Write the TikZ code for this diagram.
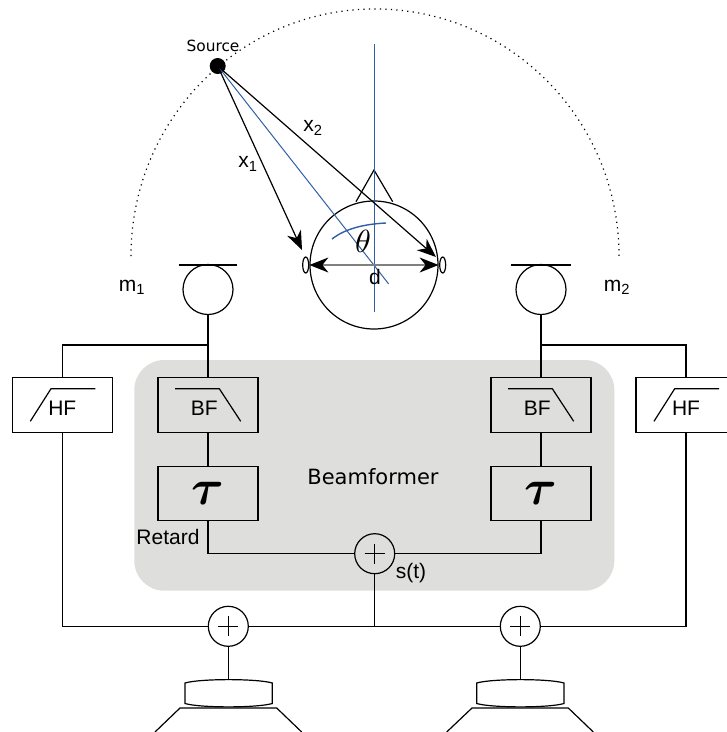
\documentclass[tikz,border=0pt]{standalone}
\usepackage{amsmath,amssymb}
\usepackage{fontspec}
\setmainfont{Liberation Sans}
\newfontfamily\dejavu{DejaVu Sans}
\usetikzlibrary{arrows.meta, shapes.geometric, positioning, calc}
\newcommand{\drawl}{\draw[line width=1.2pt]}
\definecolor{bluefig}{HTML}{2F5FA8}
\definecolor{greyfig}{HTML}{DEDEDD}
\tikzset{
  lab/.style={font=\fontsize{21}{21}\selectfont, inner sep=0pt},
  filterbox/.style={draw, line width=1.2pt, rectangle, minimum width=100pt, minimum height=54.6pt, inner sep=0pt},
  sumnode/.style={draw, line width=1.2pt, circle, minimum size=40pt, inner sep=0pt,
    path picture={\draw[line width=1pt] (path picture bounding box.center) +(-10,0) -- +(10,0) +(0,-10) -- +(0,10);}},
  micnode/.style={draw, line width=1.2pt, circle, minimum size=50pt, inner sep=0pt},
  earnode/.style={draw, line width=1.2pt, ellipse, minimum width=6pt, minimum height=16pt, inner sep=0pt}
}

\begin{document}
\begin{tikzpicture}[x=1pt,y=-1pt,>={Stealth[length=19pt,width=15pt,inset=6pt,color=black]}]
\useasboundingbox (0,0) rectangle (727,732);
\clip (0,0) rectangle (727,732);
% Beamformer background
\fill[greyfig, rounded corners=30pt] (134.3,360) rectangle (614.3,590.7);
\node[font=\dejavu\fontsize{21}{21}\selectfont, inner sep=0pt] (beam) at (373,477) {Beamformer};
% Source and dotted arc
\draw[line width=1.2pt, dash pattern=on 1.2pt off 4.3pt] (131,256) arc[start angle=180, end angle=360, x radius=244, y radius=247];
\node[font=\dejavu\fontsize{15.4}{15.4}\selectfont, inner sep=0pt] (srclabel) at (213,46) {Source};
\node[circle, fill=black, minimum size=16pt, inner sep=0pt] (source) at (217.7,66) {};
% Head
\node[draw, line width=1.2pt, circle, minimum size=128pt, inner sep=0pt] (head) at (374,265) {};
\node[earnode] (earL) at (305.7,265) {};
\node[earnode] (earR) at (442.7,265) {};
\drawl (356,201.7) -- (374,170) -- (392.7,201.7);
\coordinate (tipA) at (302,250);
\coordinate (tipB) at (436,257);
\coordinate (axisT) at (374,44);
\coordinate (axisB) at (374,312);
\coordinate (diagB) at (388.7,284);
\draw[bluefig, line width=1pt] (axisT) -- (axisB);
\draw[bluefig, line width=1pt] (source.center) -- (diagB);
\draw[bluefig, line width=1.4pt] (332,239) .. controls (346,228) and (366,224) .. (386,223);
\draw[gray, line width=1.4pt, <->] (head.west) -- (head.east);
\drawl[->] (source.center) -- (tipA);
\drawl[->] (source.center) -- (tipB);
\node[scale=3.2, inner sep=0pt] (theta) at (363,241) {$\theta$};
\node[lab] (dlab) at (375,277) {d};
\node[lab] (xa) at (248,164) {x\textsubscript{1}};
\node[lab] (xb) at (313,128) {x\textsubscript{2}};
% Microphones
\node[micnode] (micL) at (208,289.5) {};
\node[micnode] (micR) at (541,289.5) {};
\drawl (178.7,265) -- (237,265);
\drawl (511,265) -- (571,265);
\node[lab] (mA) at (132,287) {m\textsubscript{1}};
\node[lab] (mB) at (617,287) {m\textsubscript{2}};
% Filters
\node[filterbox] (hfL) at (62.3,405) {};
\node[filterbox] (hfR) at (686,405) {};
\node[filterbox] (bfL) at (208,405) {};
\node[filterbox] (bfR) at (541,405) {};
\node[filterbox] (tauL) at (208,493.5) {};
\node[filterbox] (tauR) at (541,493.5) {};
\node[lab] at ([yshift=-3pt]hfL.center) {HF};
\node[lab] at ([yshift=-3pt]hfR.center) {HF};
\node[lab] at ([xshift=-3.7pt,yshift=-3pt]bfL.center) {BF};
\node[lab] at ([xshift=-3.7pt,yshift=-3pt]bfR.center) {BF};
\node[scale=5, inner sep=0pt] at (tauL.center) {$\boldsymbol{\tau}$};
\node[scale=5, inner sep=0pt] at (tauR.center) {$\boldsymbol{\tau}$};
\node[lab] (retard) at (168,537) {Retard};
\drawl (hfL.center) ++(-32,16.3) -- ++(20.7,-32.6) -- ++(44.3,0);
\drawl (hfR.center) ++(-32,16.3) -- ++(20.7,-32.6) -- ++(44.3,0);
\drawl (bfL.center) ++(-33,-16.3) -- ++(44.3,0) -- ++(21.4,32.6);
\drawl (bfR.center) ++(-33,-16.3) -- ++(44.3,0) -- ++(21.4,32.6);
% Sums
\node[sumnode] (sumC) at (374.7,553.7) {};
\node[sumnode] (sumL) at (228.3,626.3) {};
\node[sumnode] (sumR) at (520.3,626.3) {};
\node[lab] (st) at (411,573) {s(t)};
\coordinate (junC) at (sumC |- sumL);
% Wires
\drawl (micL) -- (bfL);
\drawl (micR) -- (bfR);
\drawl (bfL) -- (tauL);
\drawl (bfR) -- (tauR);
\drawl (tauL) |- (sumC);
\drawl (tauR) |- (sumC);
\drawl (sumC) -- (junC);
\drawl (sumL) -- (sumR);
\drawl (208,345) -| (hfL);
\drawl (541,345) -| (hfR);
\drawl (hfL) |- (sumL);
\drawl (hfR) |- (sumR);
% Speakers
\coordinate (spkL) at (228.3,679.5);
\coordinate (spkR) at (520.3,679.5);
\drawl (sumL) -- (spkL);
\drawl (sumR) -- (spkR);
\drawl (185,683) .. controls (200,678.5) and (257,678.5) .. (272.3,683) -- (272.3,703.5) .. controls (257,708) and (200,708) .. (185,703.5) -- cycle;
\drawl (155,732) -- (180,708) -- (276.7,708) -- (301.7,732);
\drawl (476.7,683) .. controls (492,678.5) and (549,678.5) .. (564,683) -- (564,703.5) .. controls (549,708) and (492,708) .. (476.7,703.5) -- cycle;
\drawl (446.7,732) -- (472,708) -- (568.3,708) -- (593.3,732);
\end{tikzpicture}
\end{document}
